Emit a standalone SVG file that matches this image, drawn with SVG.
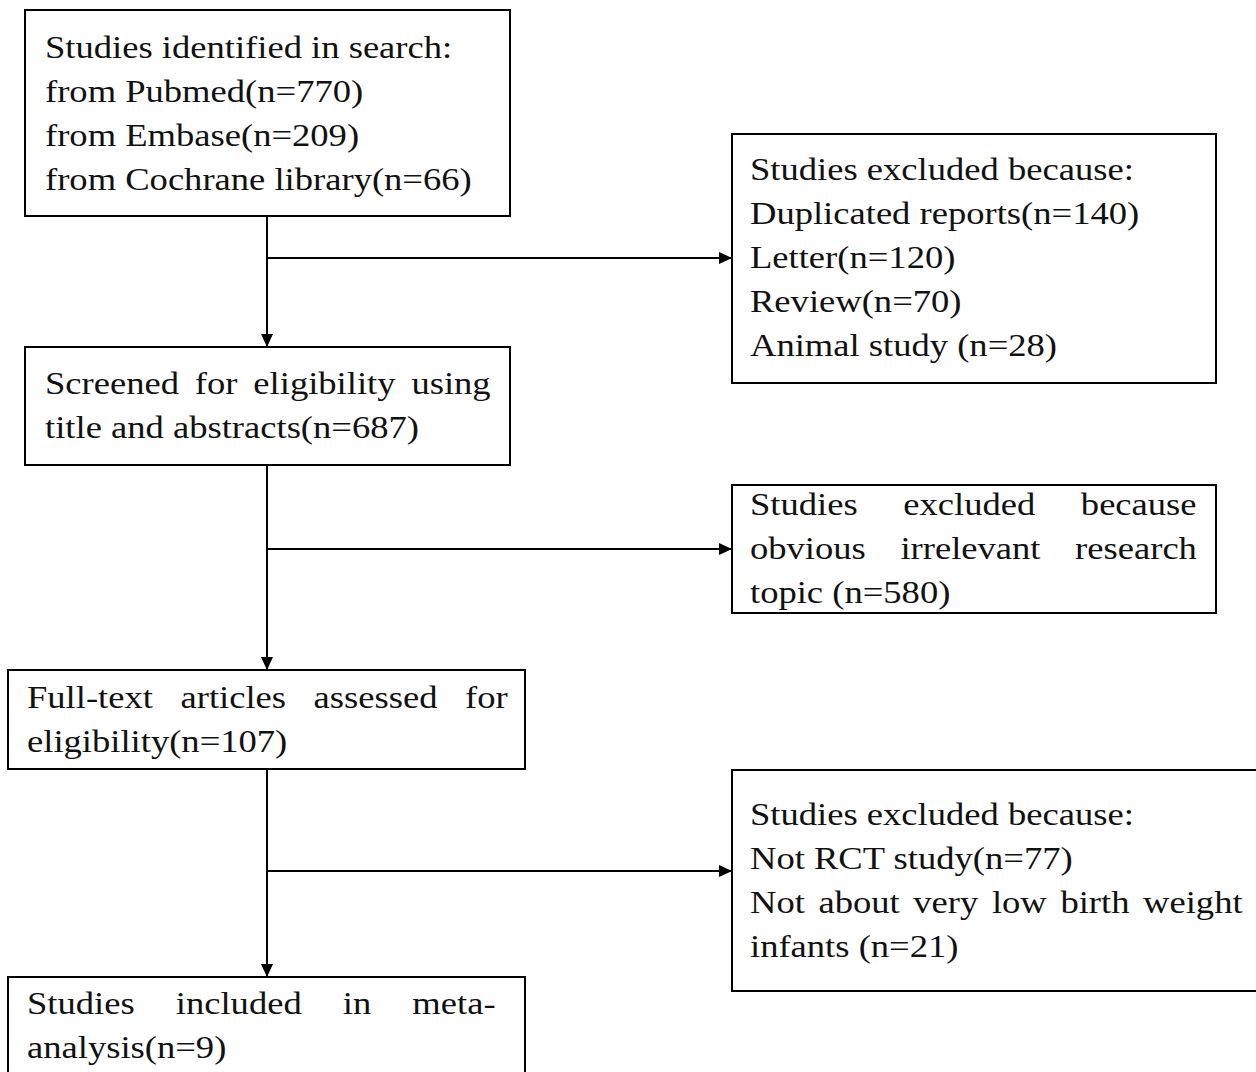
<svg xmlns="http://www.w3.org/2000/svg" width="1256" height="1072" viewBox="0 0 1256 1072">
<defs>
<marker id="arr" markerUnits="userSpaceOnUse" markerWidth="14" markerHeight="12" refX="13" refY="6" orient="auto">
<path d="M0,0 L13,6 L0,12 Z" fill="#000"/>
</marker>
<style>
.box{fill:#fff;stroke:#000;stroke-width:2}
.t{font-family:"Liberation Serif","Times New Roman",serif;font-size:31px;fill:#111}
.c{fill:none;stroke:#000;stroke-width:2}
</style>
</defs>
<rect width="1256" height="1072" fill="#fff"/>
<g id="connectors">
<line class="c" x1="267" y1="216" x2="267" y2="347" marker-end="url(#arr)"/>
<line class="c" x1="267" y1="258" x2="732" y2="258" marker-end="url(#arr)"/>
<line class="c" x1="267" y1="465" x2="267" y2="670" marker-end="url(#arr)"/>
<line class="c" x1="267" y1="549" x2="732" y2="549" marker-end="url(#arr)"/>
<line class="c" x1="267" y1="769" x2="267" y2="977" marker-end="url(#arr)"/>
<line class="c" x1="267" y1="871" x2="732" y2="871" marker-end="url(#arr)"/>
</g>
<g id="identified">
<rect class="box" x="25" y="10" width="485" height="206"/>
<g transform="scale(1.18 1)" class="t">
<text x="38.14" y="58">Studies identified in search:</text>
<text x="38.14" y="102">from Pubmed(n=770)</text>
<text x="38.14" y="146">from Embase(n=209)</text>
<text x="38.14" y="190">from Cochrane library(n=66)</text>
</g>
</g>
<g id="excluded1">
<rect class="box" x="732" y="134" width="484" height="249"/>
<g transform="scale(1.18 1)" class="t">
<text x="635.59" y="180">Studies excluded because:</text>
<text x="635.59" y="224">Duplicated reports(n=140)</text>
<text x="635.59" y="268">Letter(n=120)</text>
<text x="635.59" y="312">Review(n=70)</text>
<text x="635.59" y="356">Animal study (n=28)</text>
</g>
</g>
<g id="screened">
<rect class="box" x="25" y="347" width="485" height="118"/>
<g transform="scale(1.18 1)" class="t">
<text x="38.14" y="394" style="word-spacing:5.7px">Screened for eligibility using</text>
<text x="38.14" y="438">title and abstracts(n=687)</text>
</g>
</g>
<g id="excluded2">
<rect class="box" x="732" y="485" width="484" height="128"/>
<g transform="scale(1.18 1)" class="t">
<text x="635.59" y="515" style="word-spacing:30.9px">Studies excluded because</text>
<text x="635.59" y="559" style="word-spacing:21.6px">obvious irrelevant research</text>
<text x="635.59" y="603">topic (n=580)</text>
</g>
</g>
<g id="fulltext">
<rect class="box" x="8" y="670" width="517" height="99"/>
<g transform="scale(1.18 1)" class="t">
<text x="22.88" y="708" style="word-spacing:15.6px">Full-text articles assessed for</text>
<text x="22.88" y="752">eligibility(n=107)</text>
</g>
</g>
<g id="excluded3">
<rect class="box" x="732" y="770" width="540" height="221"/>
<g transform="scale(1.18 1)" class="t">
<text x="635.59" y="825">Studies excluded because:</text>
<text x="635.59" y="869">Not RCT study(n=77)</text>
<text x="635.59" y="913" style="word-spacing:3.8px">Not about very low birth weight</text>
<text x="635.59" y="957">infants (n=21)</text>
</g>
</g>
<g id="included">
<rect class="box" x="8" y="977" width="517" height="110"/>
<g transform="scale(1.18 1)" class="t">
<text x="22.88" y="1014" style="word-spacing:27.1px">Studies included in meta-</text>
<text x="22.88" y="1058">analysis(n=9)</text>
</g>
</g>
</svg>
